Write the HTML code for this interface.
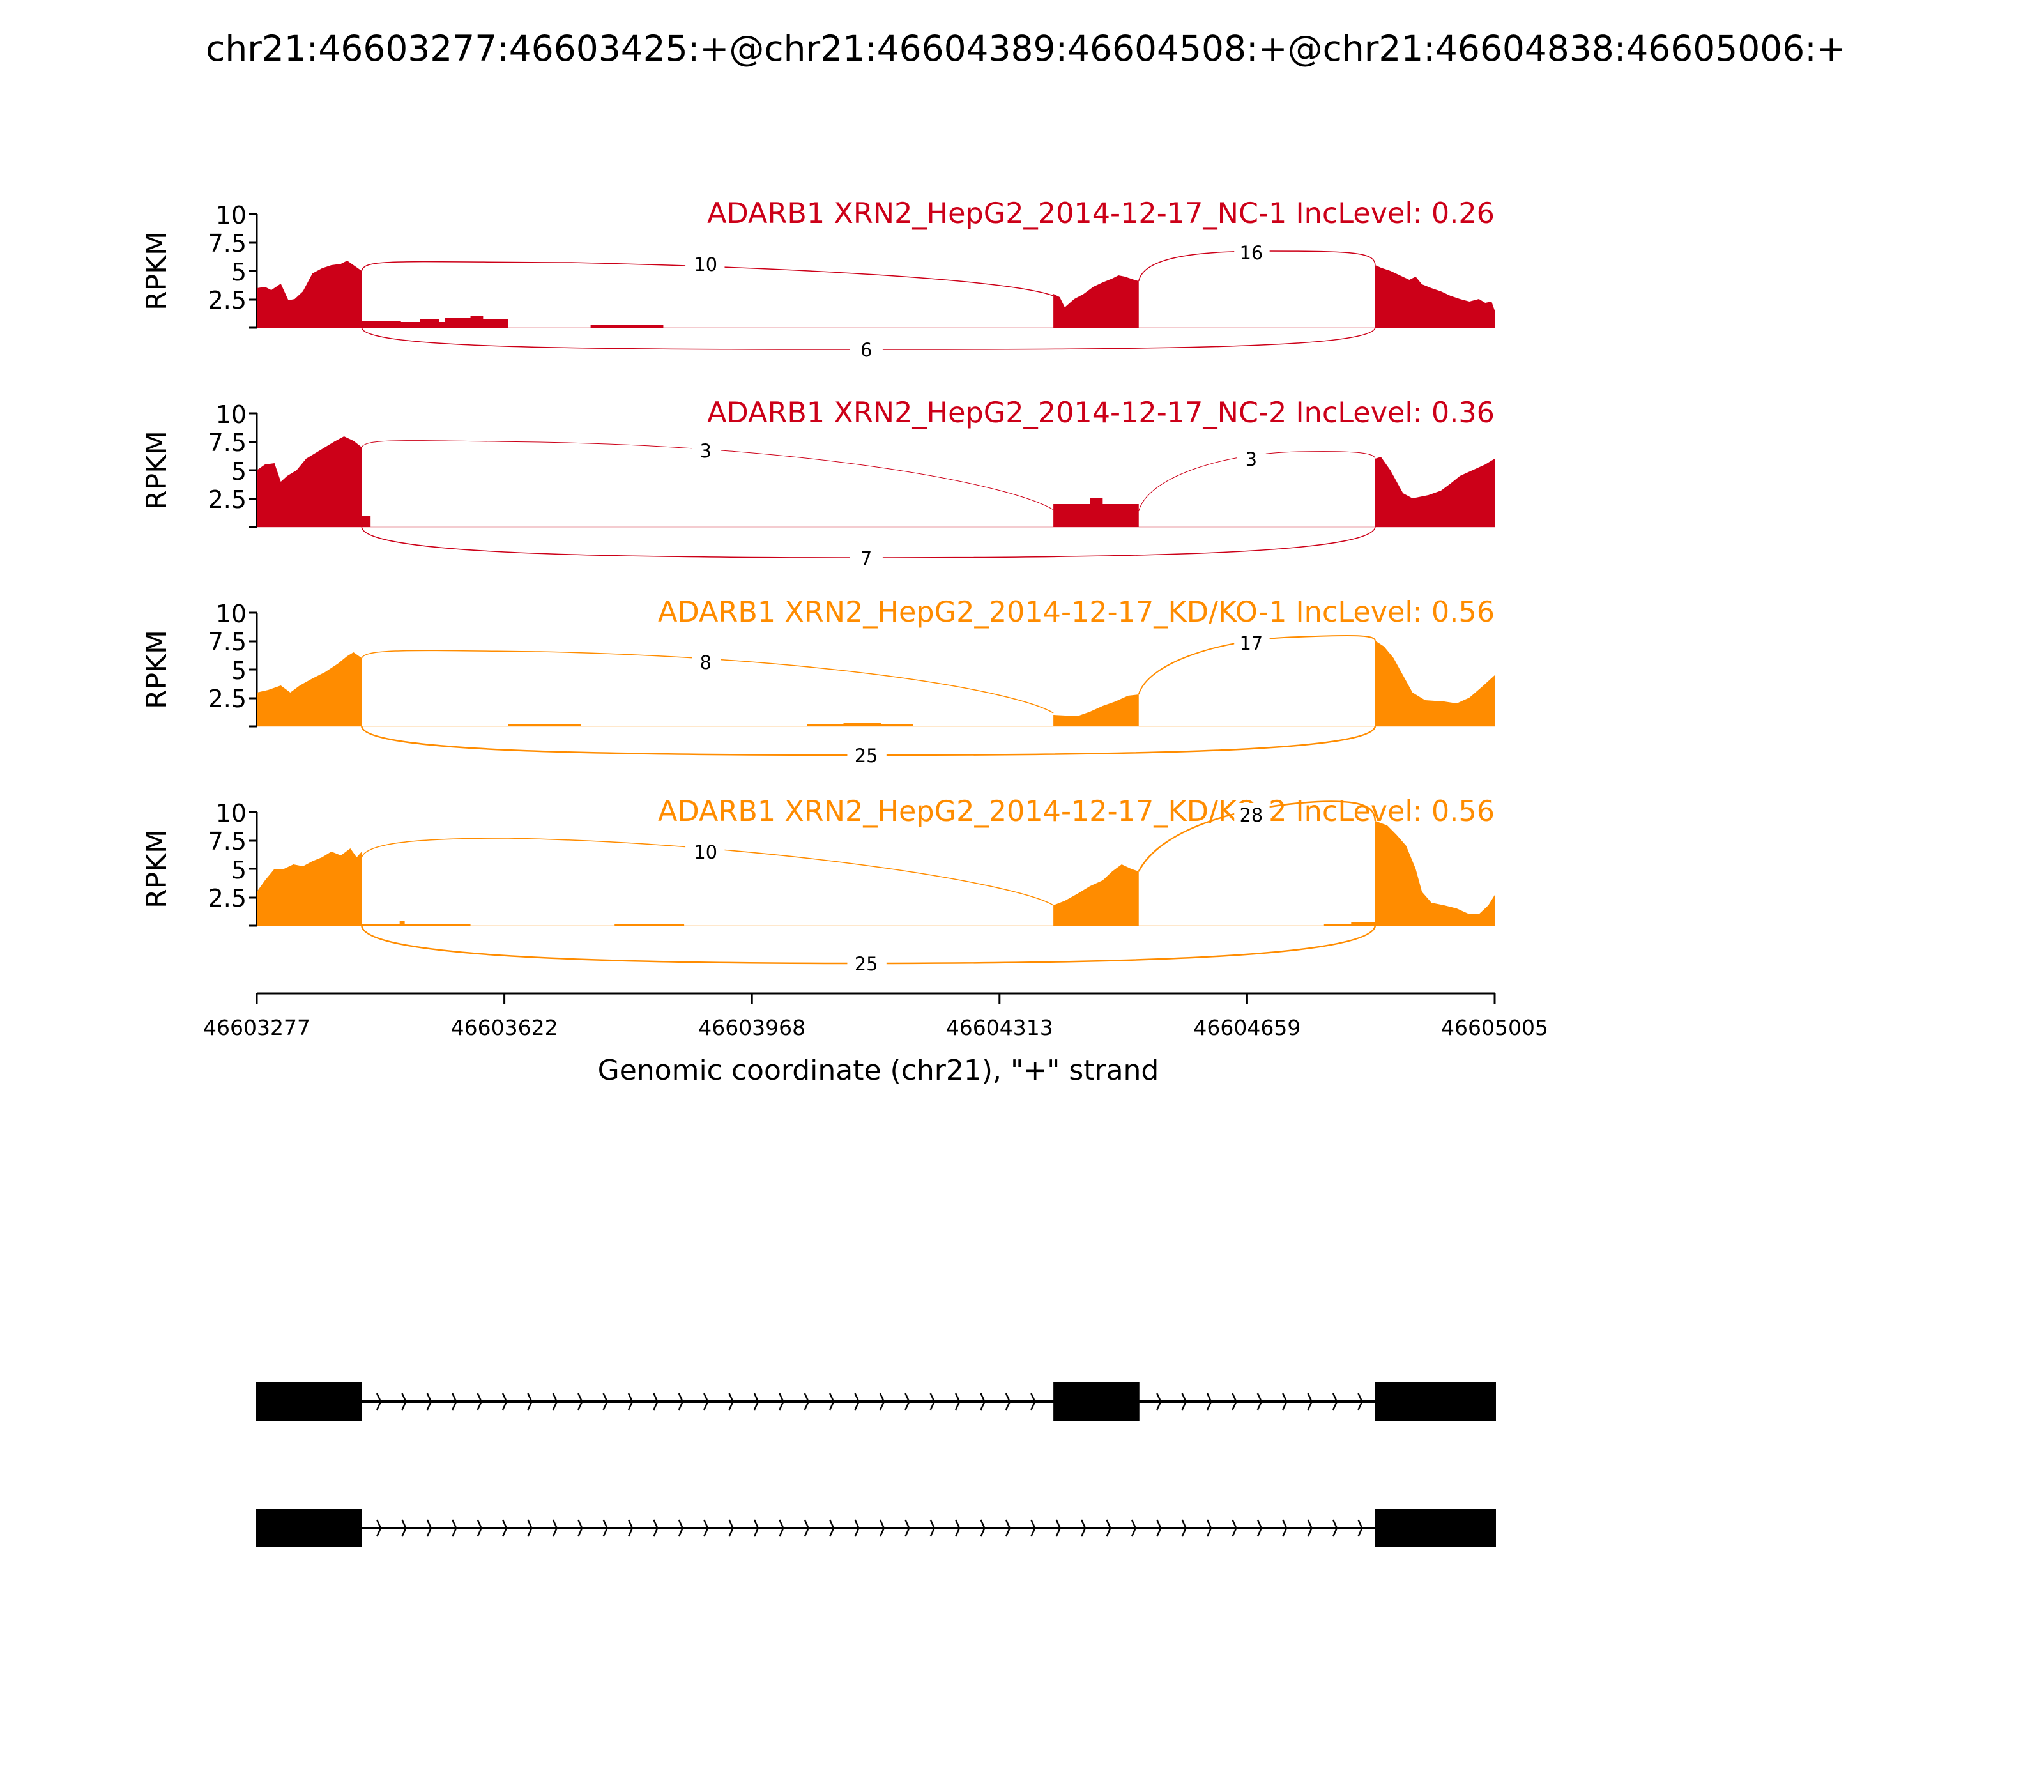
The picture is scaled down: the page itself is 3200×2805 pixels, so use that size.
<!DOCTYPE html>
<html><head><meta charset="utf-8"><style>html,body{margin:0;padding:0;background:#fff}</style></head>
<body>
<svg width="3200" height="2800" viewBox="0 0 3200 2800" xmlns="http://www.w3.org/2000/svg" font-family="'DejaVu Sans','Liberation Sans',sans-serif">
<defs>
<pattern id="chev" x="590" y="0" width="39.8" height="2800" patternUnits="userSpaceOnUse">
<path d="M2,2181 L8,2194 L2,2207 M2,2379 L8,2392 L2,2405" stroke="#000" stroke-width="2.5" fill="none"/>
</pattern>
</defs>
<rect width="3200" height="2800" fill="#fff"/>
<text x="1606" y="95" font-size="55" text-anchor="middle">chr21:46603277:46603425:+@chr21:46604389:46604508:+@chr21:46604838:46605006:+</text>

<g font-size="38" text-anchor="end">
<g>
<line x1="402" y1="335" x2="402" y2="513" stroke="#000" stroke-width="3"/>
<path d="M390,335H402M390,380H402M390,424H402M390,469H402M390,513H402" stroke="#000" stroke-width="3"/>
<text x="386" y="350">10</text><text x="386" y="394">7.5</text><text x="386" y="439">5</text><text x="386" y="483">2.5</text>
</g>
<g transform="translate(0,312)">
<line x1="402" y1="335" x2="402" y2="513" stroke="#000" stroke-width="3"/>
<path d="M390,335H402M390,380H402M390,424H402M390,469H402M390,513H402" stroke="#000" stroke-width="3"/>
<text x="386" y="350">10</text><text x="386" y="394">7.5</text><text x="386" y="439">5</text><text x="386" y="483">2.5</text>
</g>
<g transform="translate(0,624)">
<line x1="402" y1="335" x2="402" y2="513" stroke="#000" stroke-width="3"/>
<path d="M390,335H402M390,380H402M390,424H402M390,469H402M390,513H402" stroke="#000" stroke-width="3"/>
<text x="386" y="350">10</text><text x="386" y="394">7.5</text><text x="386" y="439">5</text><text x="386" y="483">2.5</text>
</g>
<g transform="translate(0,936)">
<line x1="402" y1="335" x2="402" y2="513" stroke="#000" stroke-width="3"/>
<path d="M390,335H402M390,380H402M390,424H402M390,469H402M390,513H402" stroke="#000" stroke-width="3"/>
<text x="386" y="350">10</text><text x="386" y="394">7.5</text><text x="386" y="439">5</text><text x="386" y="483">2.5</text>
</g>
</g>
<g font-size="44" text-anchor="middle">
<text transform="translate(260,424) rotate(-90)">RPKM</text>
<text transform="translate(260,736) rotate(-90)">RPKM</text>
<text transform="translate(260,1048) rotate(-90)">RPKM</text>
<text transform="translate(260,1360) rotate(-90)">RPKM</text>
</g>
<g font-size="44.5" text-anchor="end">
<text x="2340" y="349" fill="#CC0018">ADARB1 XRN2_HepG2_2014-12-17_NC-1 IncLevel: 0.26</text>
<text x="2340" y="661" fill="#CC0018">ADARB1 XRN2_HepG2_2014-12-17_NC-2 IncLevel: 0.36</text>
<text x="2340" y="973" fill="#FF8C00">ADARB1 XRN2_HepG2_2014-12-17_KD/KO-1 IncLevel: 0.56</text>
<text x="2340" y="1285" fill="#FF8C00">ADARB1 XRN2_HepG2_2014-12-17_KD/KO-2 IncLevel: 0.56</text>
</g>

<g transform="translate(402,0) scale(0.98979,1) translate(-402,0)">
<!-- Panel 1 -->
<g fill="#CC0018">
<polygon points="402,513 402,451 415,449 425,454 440,444 452,470 462,468 475,456 490,428 505,420 520,415 535,413 545,408 555,415 568,424 568,513"/>
<polygon points="568,513 568,502 630,502 630,504 660,504 660,499 690,499 690,504 700,504 700,497 740,497 740,495 760,495 760,499 800,499 800,513"/>
<rect x="930" y="508" width="115" height="5"/>
<polygon points="1662,513 1662,460 1672,465 1680,481 1695,468 1710,460 1725,449 1740,442 1755,436 1765,431 1775,433 1790,438 1797,440 1797,513"/>
<polygon points="2171,513 2171,415 2180,419 2195,424 2210,431 2225,438 2235,433 2245,445 2260,451 2275,456 2290,463 2305,468 2320,472 2335,468 2345,474 2355,472 2360,486 2360,513"/>
</g>
<line x1="402" y1="513" x2="2360" y2="513" stroke="#CC0018" stroke-width="1" opacity="0.4"/>
<g fill="none" stroke="#CC0018" stroke-width="1.5">
<path d="M568,424 C572,405 620,410 900,411 C1300,420 1600,440 1662,463"/>
<path d="M1797,440 C1805,400 1900,393 2000,393 C2140,393 2170,395 2171,415"/>
<path d="M568,513 C572,545 900,547 1366,547 C1830,547 2165,545 2171,513"/>
</g>
<!-- Panel 2 -->
<g fill="#CC0018">
<polygon points="402,825 402,736 415,727 430,725 440,754 450,745 465,736 480,718 495,709 510,700 525,691 540,683 555,690 568,700 568,825"/>
<rect x="568" y="807" width="14" height="18"/>
<polygon points="1662,825 1662,789 1720,789 1720,780 1740,780 1740,789 1797,789 1797,825"/>
<polygon points="2171,825 2171,718 2180,715 2195,736 2205,754 2215,772 2230,780 2255,775 2275,768 2290,757 2305,745 2325,736 2345,727 2360,718 2360,825"/>
</g>
<line x1="402" y1="825" x2="2360" y2="825" stroke="#CC0018" stroke-width="1" opacity="0.4"/>
<g fill="none" stroke="#CC0018" stroke-width="1">
<path d="M568,700 C575,685 650,690 850,692 C1300,700 1600,760 1662,798"/>
<path d="M1797,800 C1810,750 1920,710 2050,707 C2150,705 2170,710 2171,718"/>
<path d="M568,825 C572,865 900,873 1366,873 C1830,873 2165,865 2171,825" stroke-width="1.5"/>
</g>
<!-- Panel 3 -->
<g fill="#FF8C00">
<polygon points="402,1137 402,1084 420,1080 440,1073 455,1084 470,1073 490,1062 510,1052 530,1039 545,1027 555,1021 568,1030 568,1137"/>
<rect x="800" y="1133" width="115" height="4"/>
<polygon points="1272,1137 1272,1134 1330,1134 1330,1131 1390,1131 1390,1134 1440,1134 1440,1137"/>
<polygon points="1662,1137 1662,1119 1700,1121 1720,1114 1740,1105 1760,1098 1780,1089 1797,1087 1797,1137"/>
<polygon points="2171,1137 2171,1003 2185,1012 2200,1030 2215,1057 2230,1084 2250,1096 2280,1098 2300,1101 2320,1092 2340,1075 2360,1057 2360,1137"/>
</g>
<line x1="402" y1="1137" x2="2360" y2="1137" stroke="#FF8C00" stroke-width="1" opacity="0.4"/>
<g fill="none" stroke="#FF8C00">
<path d="M568,1030 C575,1015 650,1018 850,1020 C1300,1030 1600,1080 1662,1116" stroke-width="1.5"/>
<path d="M1797,1087 C1810,1040 1920,1000 2050,997 C2150,993 2170,995 2171,1003" stroke-width="2"/>
<path d="M568,1137 C572,1175 900,1182 1366,1182 C1830,1182 2165,1175 2171,1137" stroke-width="2.5"/>
</g>
<!-- Panel 4 -->
<g fill="#FF8C00">
<polygon points="402,1449 402,1396 415,1378 430,1360 445,1360 460,1353 475,1356 490,1348 505,1342 520,1333 535,1339 550,1328 560,1342 568,1333 568,1449"/>
<polygon points="568,1449 568,1446 628,1446 628,1442 636,1442 636,1446 740,1446 740,1449"/>
<rect x="968" y="1446" width="110" height="3"/>
<polygon points="2090,1449 2090,1446 2133,1446 2133,1443 2171,1443 2171,1449"/>
<polygon points="1662,1449 1662,1417 1680,1410 1700,1399 1720,1387 1740,1378 1755,1364 1770,1353 1785,1360 1797,1364 1797,1449"/>
<polygon points="2171,1449 2171,1285 2190,1292 2205,1307 2220,1324 2235,1360 2245,1396 2260,1413 2280,1417 2300,1422 2320,1431 2335,1431 2350,1417 2360,1401 2360,1449"/>
</g>
<line x1="402" y1="1449" x2="2360" y2="1449" stroke="#FF8C00" stroke-width="1" opacity="0.4"/>
<g fill="none" stroke="#FF8C00">
<path d="M568,1342 C575,1320 650,1312 800,1312 C1200,1320 1600,1380 1662,1417" stroke-width="1.5"/>
<path d="M1797,1364 C1830,1300 1950,1262 2080,1255 C2150,1252 2170,1262 2171,1285" stroke-width="2.5"/>
<path d="M568,1449 C572,1495 900,1508 1366,1508 C1830,1508 2165,1495 2171,1449" stroke-width="2.5"/>
</g>

<!-- Junction labels -->
<g font-size="29" text-anchor="middle">
<rect x="1080" y="395" width="62" height="36" fill="#fff"/><text x="1112" y="424">10</text>
<rect x="1948" y="377" width="56" height="36" fill="#fff"/><text x="1975" y="406">16</text>
<rect x="1340" y="529" width="52" height="36" fill="#fff"/><text x="1366" y="558">6</text>
<rect x="1090" y="687" width="46" height="36" fill="#fff"/><text x="1112" y="716">3</text>
<rect x="1952" y="700" width="46" height="36" fill="#fff"/><text x="1975" y="729">3</text>
<rect x="1340" y="855" width="52" height="36" fill="#fff"/><text x="1366" y="884">7</text>
<rect x="1090" y="1018" width="46" height="36" fill="#fff"/><text x="1112" y="1047">8</text>
<rect x="1948" y="988" width="56" height="36" fill="#fff"/><text x="1975" y="1017">17</text>
<rect x="1336" y="1164" width="62" height="36" fill="#fff"/><text x="1366" y="1193">25</text>
<rect x="1080" y="1315" width="62" height="36" fill="#fff"/><text x="1112" y="1344">10</text>
<rect x="1948" y="1257" width="56" height="36" fill="#fff"/><text x="1975" y="1286">28</text>
<rect x="1336" y="1490" width="62" height="36" fill="#fff"/><text x="1366" y="1519">25</text>
</g>

<!-- Gene models -->
<line x1="568" y1="2194" x2="2171" y2="2194" stroke="#000" stroke-width="4"/>
<line x1="568" y1="2392" x2="2171" y2="2392" stroke="#000" stroke-width="4"/>
<rect x="580" y="2175" width="1082" height="40" fill="url(#chev)"/>
<rect x="1798" y="2175" width="373" height="40" fill="url(#chev)"/>
<rect x="580" y="2373" width="1591" height="40" fill="url(#chev)"/>
<rect x="400" y="2164" width="168" height="60" fill="#000"/>
<rect x="1662" y="2164" width="136" height="60" fill="#000"/>
<rect x="2171" y="2164" width="191" height="60" fill="#000"/>
<rect x="400" y="2362" width="168" height="60" fill="#000"/>
<rect x="2171" y="2362" width="191" height="60" fill="#000"/>
</g>

<!-- X axis -->
<line x1="402" y1="1555" x2="2340" y2="1555" stroke="#000" stroke-width="3"/>
<path d="M402,1555V1572M789.6,1555V1572M1177.2,1555V1572M1564.8,1555V1572M1952.4,1555V1572M2340,1555V1572" stroke="#000" stroke-width="3"/>
<g font-size="33" text-anchor="middle">
<text x="402" y="1620">46603277</text>
<text x="789.6" y="1620">46603622</text>
<text x="1177.2" y="1620">46603968</text>
<text x="1564.8" y="1620">46604313</text>
<text x="1952.4" y="1620">46604659</text>
<text x="2340" y="1620">46605005</text>
</g>
<text x="1375" y="1690" font-size="44" text-anchor="middle">Genomic coordinate (chr21), "+" strand</text>
</svg>
</body></html>
